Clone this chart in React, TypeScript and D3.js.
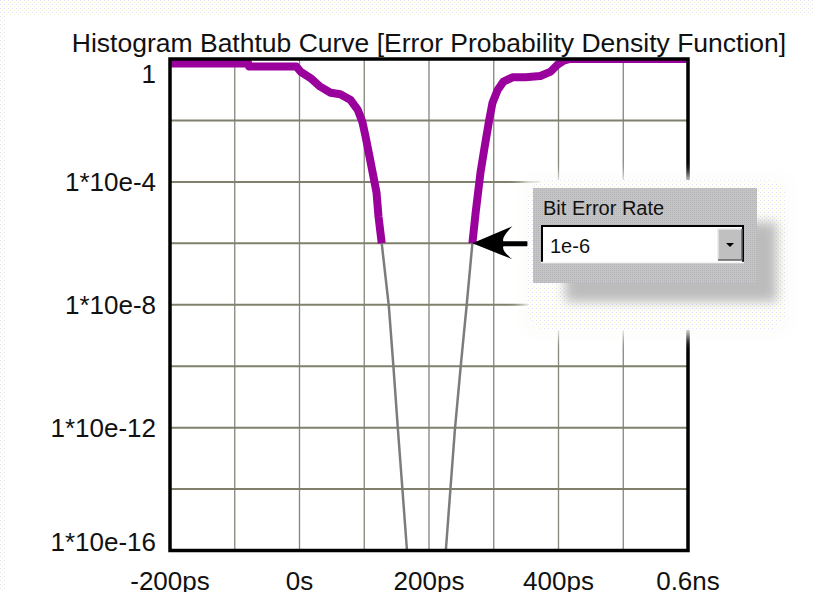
import React from "react";
import * as d3 from "d3";

// ---- data (time in ps, bit error probability) ----
const leftEdgeTime = [-200, -79, -78, -5, 1.5, 17, 32, 48, 63, 79, 90, 97, 102, 107, 113, 119, 122, 127, 138, 145, 152, 159, 166];
const leftEdgeBer = [0.71, 0.71, 0.57, 0.57, 0.39, 0.24, 0.126, 0.08, 0.071, 0.046, 0.022, 0.0091, 0.003, 8.8e-4, 2.0e-4, 4.4e-5, 7.4e-6, 1e-6, 8.8e-9, 1e-10, 8.7e-13, 9.5e-15, 1e-16];
const rightEdgeTime = [226, 233, 240, 249, 258, 267, 272, 279.5, 286, 293, 298, 306, 315, 329, 349, 372, 388, 398, 408, 418, 600];
const rightEdgeBer = [1e-16, 9.5e-15, 8.7e-13, 1e-10, 8.8e-9, 1e-6, 9.8e-6, 2.0e-4, 1.4e-3, 0.0104, 0.037, 0.098, 0.183, 0.254, 0.254, 0.28, 0.39, 0.64, 0.88, 1, 1];
const berThreshold = 1e-6;
const berThresholdLabel = "1e-6";

const xGridTicks = [-100, 0, 100, 200, 300, 400, 500];
const xLabelValues = [-200, 0, 200, 400, 600];
const xLabelTexts = ["-200ps", "0s", "200ps", "400ps", "0.6ns"];
const yGridValues = [1e-2, 1e-4, 1e-6, 1e-8, 1e-10, 1e-12, 1e-14];
const yLabelValues = [1, 1e-4, 1e-8, 1e-12, 1e-16];
const yLabelTexts = ["1", "1*10e-4", "1*10e-8", "1*10e-12", "1*10e-16"];
const chartTitle = "Histogram Bathtub Curve [Error Probability Density Function]";
const widgetTitle = "Bit Error Rate";

const W = 814;
const H = 592;
const L = 170, R = 688, T = 59, B = 550.5;
const FONT = "'Liberation Sans', Arial, sans-serif";

export default function App() {
  const x = d3.scaleLinear().domain([-200, 600]).range([L, R]);
  const y = d3.scaleLog().domain([1e-16, 1]).range([B, T]);
  const line = d3
    .line<[number, number]>()
    .x((d) => x(d[0]))
    .y((d) => y(d[1]));

  const left: [number, number][] = leftEdgeTime.map((t, i) => [t, leftEdgeBer[i]]);
  const right: [number, number][] = rightEdgeTime.map((t, i) => [t, rightEdgeBer[i]]);
  const leftHi = left.filter((d) => d[1] >= berThreshold);
  const leftLo = left.filter((d) => d[1] <= berThreshold);
  const rightHi = right.filter((d) => d[1] >= berThreshold);
  const rightLo = right.filter((d) => d[1] <= berThreshold);

  const tipX = x(rightLo[rightLo.length - 1][0]);
  const tipY = y(berThreshold);

  return (
    <svg
      width={W}
      height={H}
      style={{ position: "absolute", left: 0, top: 0, background: "#fff" }}
      fontFamily={FONT}
    >
      <defs>
        <pattern id="dots" width="4" height="4" patternUnits="userSpaceOnUse">
          <rect width="4" height="4" fill="#ffffff" />
          <rect x="0" y="0" width="1" height="1" fill="#dcdcf4" />
          <rect x="2" y="2" width="1" height="1" fill="#f0f0c8" />
        </pattern>
        <pattern id="greydots" width="2" height="2" patternUnits="userSpaceOnUse">
          <rect width="2" height="2" fill="#c4c4c4" />
          <rect x="0" y="0" width="1" height="1" fill="#b4b4b8" />
        </pattern>
        <filter id="blur6" x="-30%" y="-30%" width="160%" height="160%">
          <feGaussianBlur stdDeviation="7" />
        </filter>
        <filter id="blur4" x="-30%" y="-30%" width="160%" height="160%">
          <feGaussianBlur stdDeviation="6" />
        </filter>
        <clipPath id="plotClip">
          <rect x={L} y={T} width={R - L} height={B - T} />
        </clipPath>
      </defs>

      {/* faint dithered page edges */}
      <rect x={0} y={0} width={W} height={16} fill="url(#dots)" opacity={0.8} />
      <rect x={0} y={0} width={5} height={H} fill="url(#dots)" opacity={0.8} />

      {/* title */}
      <text x={(L + R) / 2} y={52} textAnchor="middle" fontSize={26.5} fill="#111">
        {chartTitle}
      </text>

      {/* grid */}
      {xGridTicks.map((t) => (
        <line key={"vx" + t} x1={x(t)} x2={x(t)} y1={T} y2={B} stroke="#85857c" strokeWidth={1.3} />
      ))}
      {yGridValues.map((v) => (
        <line key={"hy" + v} x1={L} x2={R} y1={y(v)} y2={y(v)} stroke="#80806c" strokeWidth={2} />
      ))}

      {/* curves */}
      <g clipPath="url(#plotClip)" fill="none">
        <path d={line(leftLo) || ""} stroke="#7c7c7c" strokeWidth={2.5} />
        <path d={line(rightLo) || ""} stroke="#7c7c7c" strokeWidth={2.5} />
        <path d={line(leftHi) || ""} stroke="#9a009c" strokeWidth={8} strokeLinejoin="round" />
        <path d={line(rightHi) || ""} stroke="#9a009c" strokeWidth={8} strokeLinejoin="round" />
      </g>

      {/* frame */}
      <rect x={L} y={T} width={R - L} height={B - T} fill="none" stroke="#000" strokeWidth={3.5} />

      {/* y labels */}
      {yLabelValues.map((v, i) => {
        let yy = y(v) + 9;
        if (i === 0) yy = y(v) + 24;
        if (i === yLabelValues.length - 1) yy = y(v);
        return (
          <text key={"yl" + i} x={156} y={yy} textAnchor="end" fontSize={26} fill="#111">
            {yLabelTexts[i]}
          </text>
        );
      })}

      {/* x labels */}
      {xLabelValues.map((v, i) => (
        <text key={"xl" + i} x={x(v)} y={590} textAnchor="middle" fontSize={26} fill="#111">
          {xLabelTexts[i]}
        </text>
      ))}

      {/* widget overlay */}
      <rect x={522} y={176} width={270} height={160} fill="url(#dots)" filter="url(#blur6)" />
      <rect x={528} y={180} width={258} height={150} fill="url(#dots)" opacity={0.95} rx={20} />
      <rect x={565} y={222} width={212} height={80} fill="#bcbcbc" filter="url(#blur4)" />
      <rect x={533} y={188} width={224} height={95} fill="url(#greydots)" />
      <text x={543} y={215} fontSize={20} fill="#111">
        {widgetTitle}
      </text>
      {/* select box */}
      <rect x={541} y={225} width={203} height={38} fill="#fff" />
      <line x1={541} x2={744} y1={226} y2={226} stroke="#000" strokeWidth={2} />
      <line x1={542} x2={542} y1={225} y2={263} stroke="#000" strokeWidth={2} />
      <line x1={743} x2={743} y1={225} y2={263} stroke="#000" strokeWidth={2} />
      <line x1={541} x2={744} y1={262.5} y2={262.5} stroke="#f4f4f4" strokeWidth={1.5} />
      <text x={550} y={253} fontSize={20} fill="#111">
        {berThresholdLabel}
      </text>
      <rect x={718} y={229} width={24} height={31} fill="#c0c0c0" />
      <path d="M718,260 L718,229 L742,229" fill="none" stroke="#e8e8e8" strokeWidth={1.5} />
      <path d="M718,260 L742,260 L742,229" fill="none" stroke="#606060" strokeWidth={1.5} />
      <path d="M726,243 L734,243 L730,247 Z" fill="#000" />

      {/* arrow */}
      <path
        d={`M${tipX},${tipY} L${tipX + 40},${tipY - 17} Q${tipX + 29},${tipY - 6} ${tipX + 31},${tipY - 2} L${tipX + 55},${tipY - 2} L${tipX + 55},${tipY + 3} L${tipX + 31},${tipY + 3} Q${tipX + 29},${tipY + 7} ${tipX + 40},${tipY + 16} Z`}
        fill="#000"
      />
    </svg>
  );
}
